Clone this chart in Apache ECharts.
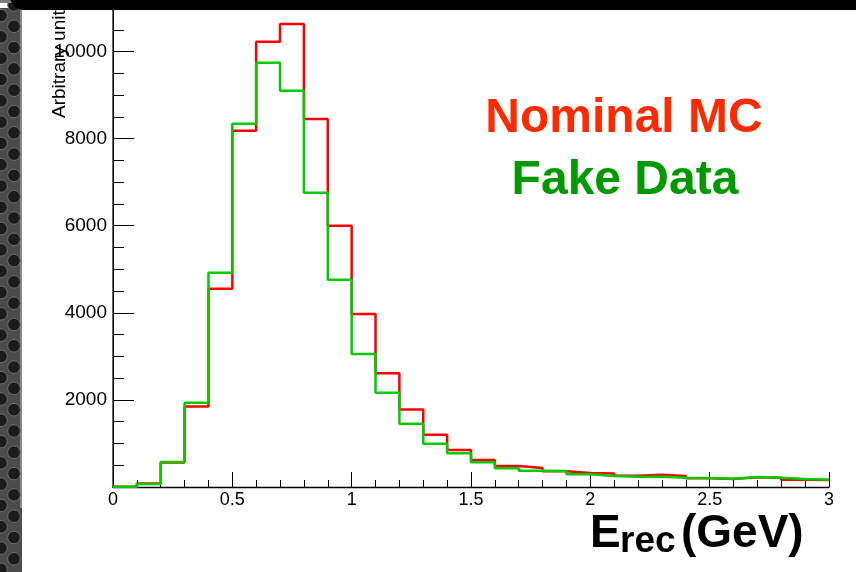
<!DOCTYPE html>
<html>
<head>
<meta charset="utf-8">
<script src="https://cdn.jsdelivr.net/npm/echarts@6/dist/echarts.min.js"></script>
<style>
html,body{margin:0;padding:0;background:#fff;}
#chart{width:856px;height:572px;}
</style>
</head>
<body>
<div id="chart"></div>
<script>
// Bin edges (GeV) of the histograms
var binEdges = [0.0,0.1,0.2,0.3,0.4,0.5,0.6,0.7,0.8,0.9,1.0,1.1,1.2,1.3,1.4,1.5,1.6,1.7,1.8,1.9,2.0,2.1,2.2,2.3,2.4,2.5,2.6,2.7,2.8,2.9,3.0];
// Nominal MC (red) bin contents
var nominalMC = [5,80,560,1850,4550,8180,10225,10630,8450,6000,3970,2615,1780,1200,850,620,480,435,360,320,312,260,283,252,200,184,222,214,168,161];
// Fake Data (green) bin contents
var fakeData = [5,69,574,1936,4921,8342,9743,9100,6758,4760,3054,2166,1454,995,773,567,429,375,367,291,252,237,237,214,207,191,230,214,184,168];

var names = ['Nominal MC', 'Fake Data'];
var xTitleParts = ['E', 'rec', '(GeV)'];
var yTitle = 'Arbitrary units';

var FONT = '"Liberation Sans", Arial, Helvetica, sans-serif';

function stepData(vals) {
  var d = [];
  for (var i = 0; i < vals.length; i++) d.push([binEdges[i], vals[i]]);
  d.push([binEdges[binEdges.length - 1], vals[vals.length - 1]]);
  return d;
}

var chart = echarts.init(document.getElementById('chart'), null, {renderer: 'canvas'});

function txt(x, y, s, size, bold, color, align, rot, z) {
  return {type: 'text', z: z || 40, x: x, y: y, rotation: rot || 0,
    style: {text: s, fontSize: size, fontWeight: bold ? 'bold' : 'normal', fontFamily: FONT,
      fill: color, align: align, verticalAlign: 'middle'}};
}

// Decorative dark textured strip on the left
var graphics = [];
graphics.push({type: 'rect', z: 50, shape: {x: 0, y: 8, width: 22, height: 564}, style: {fill: '#4b4b4b'}});
graphics.push({type: 'rect', z: 51, shape: {x: 20, y: 8, width: 2, height: 500}, style: {fill: '#8a8a8a'}});
for (var yy = 5; yy < 580; yy += 21.3) {
  graphics.push({type: 'circle', z: 52, shape: {cx: 14, cy: yy, r: 6.3}, style: {fill: '#1b1b1b', stroke: '#6e6e6e', lineWidth: 1}});
  graphics.push({type: 'circle', z: 52, shape: {cx: 1, cy: yy + 10.6, r: 6.3}, style: {fill: '#1b1b1b', stroke: '#6e6e6e', lineWidth: 1}});
}
// top frame
graphics.push({type: 'rect', z: 60, shape: {x: 0, y: 0, width: 856, height: 3}, style: {fill: '#7d7d7d'}});
graphics.push({type: 'rect', z: 61, shape: {x: 10, y: -20, width: 860, height: 30, r: 14}, style: {fill: '#000'}});

// Titles
graphics.push(txt(60, 118, yTitle, 19, false, '#000', 'left', Math.PI / 2));
graphics.push(txt(590, 534, xTitleParts[0], 46, true, '#000', 'left'));
graphics.push(txt(620, 542, xTitleParts[1], 37, true, '#000', 'left'));
graphics.push(txt(681, 534, xTitleParts[2], 46, true, '#000', 'left'));
// Legend-like labels
graphics.push(txt(624, 119, names[0], 48, true, '#ff2a00', 'center'));
graphics.push(txt(625, 181, names[1], 48, true, '#009a00', 'center'));

var option = {
  animation: false,
  backgroundColor: '#ffffff',
  grid: {left: 113, right: 27, top: 8, bottom: 85},
  xAxis: {
    type: 'value', min: 0, max: 3, interval: 0.5,
    axisLine: {show: true, onZero: false, lineStyle: {color: '#000', width: 1.3}},
    axisTick: {show: true, inside: true, length: 15, lineStyle: {color: '#000', width: 1}},
    minorTick: {show: true, splitNumber: 5, length: 7, lineStyle: {color: '#000', width: 1}},
    splitLine: {show: false},
    axisLabel: {color: '#000', fontSize: 18, fontFamily: FONT, margin: 4,
      formatter: function (v) { return String(v); }}
  },
  yAxis: [{
    type: 'value', min: 0, max: 11000, interval: 2000,
    axisLine: {show: true, onZero: false, lineStyle: {color: '#444', width: 1.6}},
    axisTick: {show: true, inside: true, length: 21, lineStyle: {color: '#000', width: 1}},
    minorTick: {show: true, splitNumber: 4, length: 11, lineStyle: {color: '#000', width: 1}},
    splitLine: {show: false},
    axisLabel: {color: '#000', fontSize: 19, fontFamily: FONT, margin: 6,
      showMinLabel: false, showMaxLabel: false,
      formatter: function (v) { return String(v); }}
  }, {
    type: 'value', min: 0, max: 11000, position: 'right',
    axisLine: {show: true, lineStyle: {color: '#000', width: 1}},
    axisTick: {show: false}, axisLabel: {show: false}, splitLine: {show: false}
  }],
  series: [{
    name: names[0], type: 'line', step: 'end', symbol: 'none', z: 3,
    lineStyle: {color: '#ff0000', width: 2.5},
    data: stepData(nominalMC)
  }, {
    name: names[1], type: 'line', step: 'end', symbol: 'none', z: 4,
    lineStyle: {color: '#00cc00', width: 2.5},
    data: stepData(fakeData)
  }],
  graphic: graphics
};
chart.setOption(option);
</script>
</body>
</html>
